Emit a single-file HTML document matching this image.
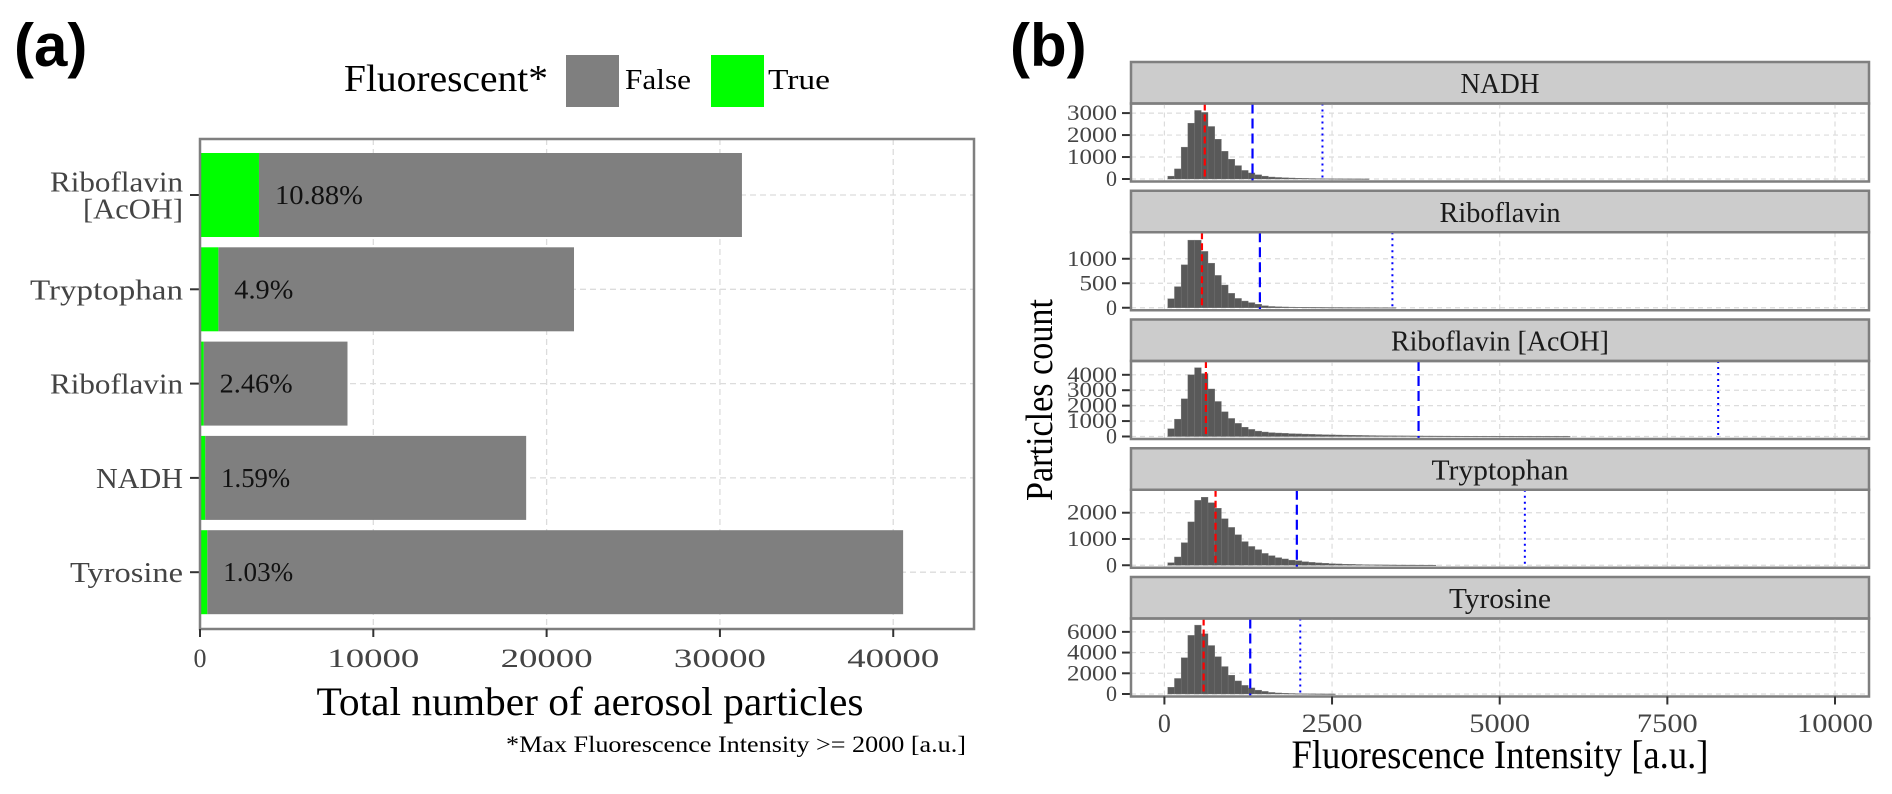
<!DOCTYPE html>
<html><head><meta charset="utf-8"><style>
html,body{margin:0;padding:0;background:#fff;}
svg{display:block;font-family:"Liberation Serif",serif;}
</style></head><body>
<svg id="fig" width="1892" height="794" viewBox="0 0 1892 794" xmlns="http://www.w3.org/2000/svg">
<text x="14" y="66" font-family="Liberation Sans, sans-serif" font-weight="bold" font-size="60">(a)</text>
<text x="1010" y="66" font-family="Liberation Sans, sans-serif" font-weight="bold" font-size="60">(b)</text>
<g>
<text x="344" y="91" font-size="38" textLength="204" lengthAdjust="spacingAndGlyphs">Fluorescent*</text>
<rect x="566" y="55" width="53" height="52" fill="#7f7f7f"/>
<text x="625" y="89" font-size="28" textLength="66" lengthAdjust="spacingAndGlyphs">False</text>
<rect x="711" y="55" width="53" height="52" fill="#00ff00"/>
<text x="768" y="89" font-size="28" textLength="62" lengthAdjust="spacingAndGlyphs">True</text>
</g>
<g id="pa"></g>
<g id="pb"></g>
</svg>
<script>
// ---- Panel (a) data ----
const catsA = ["Riboflavin\n[AcOH]", "Tryptophan", "Riboflavin", "NADH", "Tyrosine"];
const totalA = [31270, 21580, 8510, 18820, 40570];
const pctA = [10.88, 4.9, 2.46, 1.59, 1.03];
const pctLabelsA = ["10.88%", "4.9%", "2.46%", "1.59%", "1.03%"];
const ticksA = [0, 10000, 20000, 30000, 40000];
const tickLabelsA = ["0", "10000", "20000", "30000", "40000"];

// ---- Panel (b) data ----
const facetsB = ["NADH", "Riboflavin", "Riboflavin [AcOH]", "Tryptophan", "Tyrosine"];
const binStartB = 100, binWidthB = 100;
const countsNADH = [130,460,1450,2540,3120,3030,2390,1810,1260,900,610,390,275,190,130,90,70,55,45,35,28,22,18,15,12,10,8,7,6,5];
const countsRibo = [183,431,876,1380,1380,1150,910,660,464,294,190,137,105,72,40,26,20,16,13,11,9,8,7,6,5,5,4,4,3,3,3,2,2,2];
const countsAcOH = [500,1125,2440,4000,4460,4080,3080,2270,1600,1170,850,600,460,350,290,250,225,205,185,170,155,140,128,116,105,96,88,80,73,67,61,56,51,47,43,40,37,34,31,29,27,25,23,21,19,18,17,16,15,14,13,12,11,10,9,9,8,8,7,7];
const countsTryp = [97,315,860,1650,2470,2590,2380,2170,1770,1440,1160,900,715,594,450,364,290,240,194,170,133,110,90,75,60,50,40,34,28,23,19,16,13,11,9,8,7,6,5,4];
const countsTyro = [650,1500,3500,5660,6650,5820,4680,3600,2650,1815,1260,830,585,370,250,150,100,70,50,35,25,18,12,8,6];
const countsB = [countsNADH, countsRibo, countsAcOH, countsTryp, countsTyro];
const medianB = [602, 560, 619, 763, 585];
const p90B = [1314, 1424, 3790, 1975, 1280];
const p99B = [2357, 3400, 8258, 5375, 2026];
const yTicksB = [[0,1000,2000,3000],[0,500,1000],[0,1000,2000,3000,4000],[0,1000,2000],[0,2000,4000,6000]];
const yMaxB = [3300, 1480, 4700, 2760, 7000];
const xTicksB = [0, 2500, 5000, 7500, 10000];
const xTickLabelsB = ["0", "2500", "5000", "7500", "10000"];

const NS = "http://www.w3.org/2000/svg";
function mk(parent, tag, attrs, text) {
  const e = document.createElementNS(NS, tag);
  for (const k in attrs) e.setAttribute(k, attrs[k]);
  if (text !== undefined) e.textContent = text;
  parent.appendChild(e);
  return e;
}
function fit(e, w) {
  e.setAttribute('textLength', w);
  e.setAttribute('lengthAdjust', 'spacingAndGlyphs');
}
const catWidthA = {"Riboflavin":133, "[AcOH]":100, "Tryptophan":153, "NADH":87, "Tyrosine":113};
const pctWidthA = [88, 59, 73, 69, 70];
const stripWidthB = [79, 121, 218, 137, 102];

// ---------- Panel A ----------
(function(){
  const g = document.getElementById('pa');
  const L = 200, R = 974, T = 139, B = 629;
  const x = v => L + v * (R - L) / 44660;
  const rowY = i => 195 + i * 94.3;
  const barH = 84;
  ticksA.forEach((t, i) => {
    const l = mk(g, 'line', {x1:x(t), x2:x(t), y1:T, y2:B, stroke:'#dcdcdc', 'stroke-width':1.3, 'stroke-dasharray':'6,4'});
    
    
  });
  catsA.forEach((c, i) => {
    const l = mk(g, 'line', {x1:L, x2:R, y1:rowY(i), y2:rowY(i), stroke:'#dcdcdc', 'stroke-width':1.3, 'stroke-dasharray':'6,4'});
    
    
  });
  catsA.forEach((c, i) => {
    const tot = totalA[i], tr = tot * pctA[i] / 100;
    const y0 = rowY(i) - barH / 2;
    const b1 = mk(g, 'rect', {x:x(tr), y:y0, width:x(tot) - x(tr), height:barH, fill:'#7f7f7f'});
    
    
    const b2 = mk(g, 'rect', {x:x(0), y:y0, width:x(tr) - x(0), height:barH, fill:'#00ff00'});
    
    
    const t = mk(g, 'text', {x:x(tr) + 16, y:rowY(i) + 9, 'font-size':27, fill:'#111'}, pctLabelsA[i]);
    fit(t, pctWidthA[i]);
    
    
    const lines = c.split('\n');
    lines.forEach((ln, j) => {
      const yy = rowY(i) + 10 + (j - (lines.length - 1) / 2) * 27;
      const lt = mk(g, 'text', {x:183, y:yy, 'font-size':28, fill:'#444', 'text-anchor':'end'}, ln);
      fit(lt, catWidthA[ln]);
      
      
    });
    const tk = mk(g, 'line', {x1:190, x2:L, y1:rowY(i), y2:rowY(i), stroke:'#333', 'stroke-width':2});
    
    
  });
  const box = mk(g, 'rect', {x:L, y:T, width:R - L, height:B - T, fill:'none', stroke:'#7f7f7f', 'stroke-width':2.5});
  
  
  ticksA.forEach((t, i) => {
    const tk = mk(g, 'line', {x1:x(t), x2:x(t), y1:B, y2:B + 8, stroke:'#333', 'stroke-width':2});
    
    
    const tl = mk(g, 'text', {x:x(t), y:667, 'font-size':26, fill:'#444', 'text-anchor':'middle'}, tickLabelsA[i]);
    if (tickLabelsA[i].length > 1) fit(tl, 92 * tickLabelsA[i].length / 5);
    
    
  });
  const at = mk(g, 'text', {x:590, y:715, 'font-size':40, 'text-anchor':'middle'}, 'Total number of aerosol particles');
  fit(at, 547);
  
  
  const fn = mk(g, 'text', {x:966, y:752, 'font-size':23, 'text-anchor':'end'}, '*Max Fluorescence Intensity >= 2000 [a.u.]');
  fit(fn, 460);
  
  
})();

// ---------- Panel B ----------
(function(){
  const g = document.getElementById('pb');
  const L = 1131, R = 1869;
  const x = v => 1164.4 + v * (1835 - 1164.4) / 10000;
  facetsB.forEach((f, i) => {
    const top = 62 + i * 128.75;
    const sT = top, sB = top + 41.5, pT = sB, pB = sB + 78;
    const y0 = pB - 2.5;
    const plotTop = pT + 3;
    const y = v => y0 - v * (y0 - plotTop) / yMaxB[i];
    const fg = mk(g, 'g', {});
    
    
    const strip = mk(fg, 'rect', {x:L, y:sT, width:R - L, height:sB - sT, fill:'#cccccc', stroke:'#7f7f7f', 'stroke-width':2.5});
    
    
    const st = mk(fg, 'text', {x:(L + R) / 2, y:sT + 31, 'font-size':28, 'text-anchor':'middle', fill:'#1a1a1a'}, f);
    fit(st, stripWidthB[i]);
    
    
    xTicksB.forEach(t => {
      const l = mk(fg, 'line', {x1:x(t), x2:x(t), y1:pT, y2:pB, stroke:'#dcdcdc', 'stroke-width':1.2, 'stroke-dasharray':'5,4'});
      
      
    });
    yTicksB[i].forEach(t => {
      const l = mk(fg, 'line', {x1:L, x2:R, y1:y(t), y2:y(t), stroke:'#dcdcdc', 'stroke-width':1.2, 'stroke-dasharray':'5,4'});
      
      
      const tk = mk(fg, 'line', {x1:L - 9, x2:L, y1:y(t), y2:y(t), stroke:'#333', 'stroke-width':2});
      
      
      const s = String(t);
      const tl = mk(fg, 'text', {x:L - 14, y:y(t) + 7, 'font-size':22, 'text-anchor':'end', fill:'#444'}, s);
      if (s.length > 1) fit(tl, 12.5 * s.length);
      
      
    });
    countsB[i].forEach((c, k) => {
      const c0 = binStartB + k * binWidthB;
      const xl = x(c0 - binWidthB / 2), xr = x(c0 + binWidthB / 2);
      const b = mk(fg, 'rect', {x:xl, y:y(c), width:xr - xl, height:Math.max(0.6, y0 - y(c)), fill:'#595959', stroke:'#777', 'stroke-width':0.4});
      
      
    });
    const m = mk(fg, 'line', {x1:x(medianB[i]), x2:x(medianB[i]), y1:pT, y2:pB, stroke:'#ff0000', 'stroke-width':2.2, 'stroke-dasharray':'7,4'});
    
    
    const p9 = mk(fg, 'line', {x1:x(p90B[i]), x2:x(p90B[i]), y1:pT, y2:pB, stroke:'#0000ff', 'stroke-width':2.2, 'stroke-dasharray':'10,5'});
    
    
    const p99 = mk(fg, 'line', {x1:x(p99B[i]), x2:x(p99B[i]), y1:pT, y2:pB, stroke:'#0000ff', 'stroke-width':2, 'stroke-dasharray':'2,4'});
    
    
    const box = mk(fg, 'rect', {x:L, y:pT, width:R - L, height:pB - pT, fill:'none', stroke:'#7f7f7f', 'stroke-width':2.5});
    
    
  });
  const axisY = 62 + 4 * 128.75 + 41.5 + 78;
  xTicksB.forEach((t, i) => {
    const tk = mk(g, 'line', {x1:x(t), x2:x(t), y1:axisY, y2:axisY + 8, stroke:'#333', 'stroke-width':2});
    
    
    const s = xTickLabelsB[i];
    const tl = mk(g, 'text', {x:x(t), y:732, 'font-size':26, 'text-anchor':'middle', fill:'#444'}, s);
    if (s.length > 1) fit(tl, 15.2 * s.length);
    
    
  });
  const xt = mk(g, 'text', {x:1500, y:768, 'font-size':40, 'text-anchor':'middle'}, 'Fluorescence Intensity [a.u.]');
  fit(xt, 417);
  
  
  const yt = mk(g, 'text', {x:0, y:0, 'font-size':38, 'text-anchor':'middle', transform:'translate(1052,400) rotate(-90)'}, 'Particles count');
  fit(yt, 202);
  
  
})();
</script>
</body></html>
